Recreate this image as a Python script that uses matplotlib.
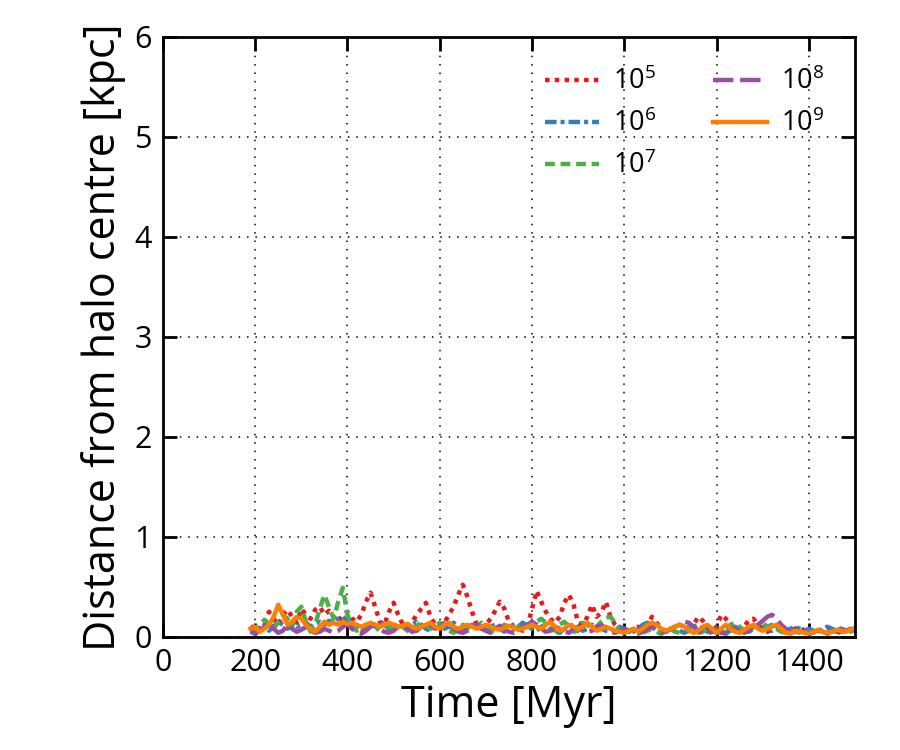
import numpy as np
import matplotlib
matplotlib.use("Agg")
import matplotlib.pyplot as plt

plt.rcParams['font.family'] = ['Open Sans', 'DejaVu Sans']
plt.rcParams['mathtext.fontset'] = 'custom'
plt.rcParams['mathtext.rm'] = 'Open Sans'
plt.rcParams['mathtext.it'] = 'Open Sans:italic'

# time samples [Myr]
time = np.arange(190, 1501, 10)

# distance from halo centre [kpc], one list per cluster mass
d_1e5 = [0.08,
         0.12, 0.08, 0.15, 0.25, 0.18, 0.12, 0.22, 0.27, 0.20, 0.14,
         0.28, 0.22, 0.18, 0.27, 0.30, 0.22, 0.26, 0.20, 0.15, 0.22,
         0.25, 0.18, 0.15, 0.22, 0.35, 0.44, 0.30, 0.15, 0.12, 0.25,
         0.34, 0.22, 0.12, 0.10, 0.15, 0.22, 0.28, 0.34, 0.20, 0.12,
         0.10, 0.14, 0.22, 0.30, 0.42, 0.52, 0.40, 0.25, 0.12, 0.08,
         0.12, 0.18, 0.26, 0.35, 0.28, 0.15, 0.10, 0.08, 0.06, 0.10,
         0.28, 0.46, 0.35, 0.25, 0.18, 0.14, 0.20, 0.34, 0.42, 0.32,
         0.14, 0.12, 0.20, 0.32, 0.20, 0.24, 0.35, 0.20, 0.12, 0.08,
         0.06, 0.05, 0.08, 0.10, 0.07, 0.12, 0.20, 0.14, 0.08, 0.06,
         0.05, 0.08, 0.12, 0.10, 0.08, 0.12, 0.20, 0.16, 0.10, 0.06,
         0.10, 0.22, 0.18, 0.12, 0.08, 0.06, 0.10, 0.17, 0.18, 0.12,
         0.08, 0.05, 0.07, 0.10, 0.08, 0.06, 0.05, 0.08, 0.10, 0.06,
         0.04, 0.06, 0.08, 0.05, 0.06, 0.08, 0.05, 0.04, 0.06, 0.07,
         0.08]
d_1e6 = [0.06,
         0.04, 0.08, 0.12, 0.06, 0.10, 0.15, 0.12, 0.08, 0.14, 0.10,
         0.12, 0.14, 0.10, 0.13, 0.15, 0.12, 0.16, 0.14, 0.18, 0.20,
         0.16, 0.12, 0.08, 0.05, 0.08, 0.12, 0.10, 0.14, 0.12, 0.08,
         0.10, 0.13, 0.10, 0.08, 0.12, 0.15, 0.12, 0.08, 0.06, 0.10,
         0.12, 0.08, 0.10, 0.14, 0.10, 0.06, 0.08, 0.12, 0.10, 0.08,
         0.06, 0.10, 0.12, 0.08, 0.05, 0.08, 0.12, 0.10, 0.14, 0.10,
         0.08, 0.06, 0.10, 0.12, 0.08, 0.05, 0.04, 0.08, 0.10, 0.12,
         0.10, 0.06, 0.08, 0.12, 0.10, 0.08, 0.06, 0.05, 0.08, 0.10,
         0.08, 0.06, 0.05, 0.08, 0.12, 0.14, 0.10, 0.08, 0.06, 0.05,
         0.08, 0.10, 0.06, 0.04, 0.06, 0.10, 0.12, 0.08, 0.05, 0.06,
         0.08, 0.05, 0.04, 0.06, 0.10, 0.08, 0.06, 0.05, 0.08, 0.10,
         0.12, 0.08, 0.06, 0.10, 0.08, 0.06, 0.08, 0.10, 0.08, 0.06,
         0.08, 0.06, 0.05, 0.08, 0.10, 0.08, 0.06, 0.05, 0.06, 0.08,
         0.06]
d_1e7 = [0.05,
         0.08, 0.12, 0.17, 0.12, 0.08, 0.15, 0.22, 0.18, 0.10, 0.25,
         0.30, 0.15, 0.05, 0.12, 0.28, 0.42, 0.30, 0.18, 0.35, 0.49,
         0.22, 0.10, 0.06, 0.08, 0.12, 0.10, 0.06, 0.10, 0.14, 0.10,
         0.08, 0.12, 0.10, 0.06, 0.05, 0.10, 0.15, 0.12, 0.08, 0.10,
         0.14, 0.10, 0.06, 0.04, 0.08, 0.12, 0.10, 0.06, 0.10, 0.14,
         0.10, 0.06, 0.05, 0.08, 0.12, 0.10, 0.07, 0.10, 0.14, 0.12,
         0.10, 0.15, 0.18, 0.14, 0.08, 0.06, 0.12, 0.15, 0.10, 0.05,
         0.06, 0.14, 0.12, 0.08, 0.10, 0.15, 0.19, 0.20, 0.14, 0.06,
         0.04, 0.05, 0.08, 0.06, 0.04, 0.06, 0.08, 0.05, 0.03, 0.06,
         0.08, 0.05, 0.04, 0.07, 0.10, 0.06, 0.04, 0.05, 0.08, 0.06,
         0.04, 0.06, 0.08, 0.12, 0.14, 0.10, 0.06, 0.05, 0.10, 0.12,
         0.14, 0.10, 0.12, 0.08, 0.05, 0.04, 0.06, 0.05, 0.04, 0.06,
         0.05, 0.04, 0.06, 0.05, 0.03, 0.04, 0.06, 0.08, 0.06, 0.05,
         0.08]
d_1e8 = [0.05,
         0.03, 0.06, 0.10, 0.15, 0.08, 0.04, 0.06, 0.12, 0.08, 0.05,
         0.07, 0.10, 0.06, 0.04, 0.05, 0.08, 0.06, 0.04, 0.06, 0.10,
         0.12, 0.08, 0.04, 0.03, 0.06, 0.10, 0.12, 0.08, 0.05, 0.04,
         0.06, 0.10, 0.12, 0.08, 0.05, 0.06, 0.10, 0.14, 0.12, 0.08,
         0.10, 0.14, 0.12, 0.08, 0.05, 0.04, 0.06, 0.09, 0.12, 0.10,
         0.06, 0.04, 0.08, 0.11, 0.08, 0.05, 0.04, 0.06, 0.10, 0.12,
         0.15, 0.12, 0.08, 0.05, 0.06, 0.10, 0.08, 0.05, 0.04, 0.08,
         0.10, 0.07, 0.05, 0.06, 0.10, 0.12, 0.08, 0.05, 0.04, 0.06,
         0.08, 0.06, 0.04, 0.03, 0.05, 0.08, 0.10, 0.06, 0.04, 0.05,
         0.08, 0.10, 0.12, 0.15, 0.14, 0.10, 0.06, 0.04, 0.03, 0.05,
         0.06, 0.04, 0.03, 0.05, 0.08, 0.06, 0.04, 0.06, 0.10, 0.12,
         0.16, 0.20, 0.22, 0.18, 0.12, 0.08, 0.05, 0.04, 0.06, 0.05,
         0.04, 0.05, 0.06, 0.05, 0.04, 0.05, 0.06, 0.08, 0.06, 0.05,
         0.06]
d_1e9 = [0.08,
         0.10, 0.05, 0.08, 0.12, 0.20, 0.32, 0.22, 0.12, 0.15, 0.20,
         0.18, 0.12, 0.08, 0.05, 0.10, 0.15, 0.12, 0.14, 0.12, 0.15,
         0.13, 0.14, 0.12, 0.10, 0.12, 0.14, 0.12, 0.10, 0.12, 0.14,
         0.12, 0.10, 0.11, 0.13, 0.10, 0.08, 0.10, 0.12, 0.14, 0.10,
         0.08, 0.12, 0.14, 0.10, 0.08, 0.10, 0.12, 0.10, 0.08, 0.10,
         0.12, 0.10, 0.08, 0.07, 0.09, 0.11, 0.09, 0.07, 0.08, 0.10,
         0.12, 0.10, 0.08, 0.12, 0.15, 0.10, 0.06, 0.08, 0.12, 0.10,
         0.08, 0.10, 0.14, 0.10, 0.06, 0.08, 0.10, 0.08, 0.06, 0.05,
         0.04, 0.06, 0.08, 0.05, 0.08, 0.12, 0.14, 0.12, 0.08, 0.06,
         0.08, 0.10, 0.12, 0.10, 0.06, 0.04, 0.06, 0.10, 0.12, 0.08,
         0.04, 0.08, 0.12, 0.08, 0.05, 0.04, 0.07, 0.10, 0.12, 0.08,
         0.06, 0.08, 0.10, 0.12, 0.08, 0.04, 0.03, 0.06, 0.05, 0.04,
         0.03, 0.05, 0.07, 0.05, 0.04, 0.05, 0.07, 0.06, 0.05, 0.07,
         0.09]

labels = [r'$\mathregular{10^5}$', r'$\mathregular{10^6}$', r'$\mathregular{10^7}$',
          r'$\mathregular{10^8}$', r'$\mathregular{10^9}$']
colors = ['#e41a1c', '#377eb8', '#4daf4a', '#984ea3', '#ff7f00']

fig = plt.figure(figsize=(9, 7.5), dpi=100)
ax = fig.add_axes([0.181, 0.151, 0.769, 0.8])

lw = 3.2
ax.plot(time, d_1e5, color=colors[0], lw=lw, ls=(0, (1, 1.2)), label=labels[0])
ax.plot(time, d_1e6, color=colors[1], lw=lw, ls=(0, (2.6, 0.9, 0.9, 0.9)), label=labels[1])
ax.plot(time, d_1e7, color=colors[2], lw=lw, ls=(0, (2.2, 1.3)), label=labels[2])
ax.plot(time, d_1e8, color=colors[3], lw=lw, ls=(0, (4.6, 1.5)), label=labels[3])
ax.plot(time, d_1e9, color=colors[4], lw=lw, ls='-', label=labels[4])

ax.set_xlim(0, 1500)
ax.set_ylim(0, 6)
ax.set_xticks(np.arange(0, 1501, 200))
ax.set_yticks(np.arange(0, 7, 1))
ax.grid(True, color='black', ls=(0, (1, 4.5)), lw=1.1)

ax.tick_params(direction='in', top=True, right=True, length=10, width=2,
               labelsize=22, pad=8)
for s in ax.spines.values():
    s.set_linewidth(2)

ax.set_xlabel('Time [Myr]', fontsize=31, labelpad=4)
ax.set_ylabel('Distance from halo centre [kpc]', fontsize=31, labelpad=6)

ax.legend(ncol=2, frameon=False, fontsize=19.5, handlelength=2.0,
          loc='upper right', columnspacing=2.1, labelspacing=0.5,
          borderaxespad=0.75, handletextpad=0.5)

fig.savefig('out.png', dpi=100)
